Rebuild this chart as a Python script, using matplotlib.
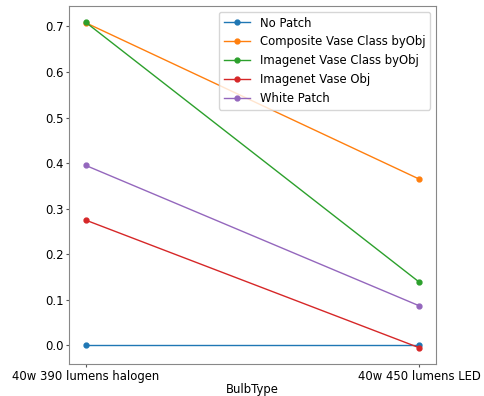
import matplotlib
matplotlib.use("Agg")
import matplotlib.pyplot as plt

bulb_types = ['40w 390 lumens halogen', '40w 450 lumens LED']

no_patch = [0.0, 0.0]
composite_vase_class = [0.708, 0.365]
imagenet_vase_class = [0.709, 0.139]
imagenet_vase_obj = [0.275, -0.005]
white_patch = [0.395, 0.087]

series = [
    ('No Patch', no_patch),
    ('Composite Vase Class byObj', composite_vase_class),
    ('Imagenet Vase Class byObj', imagenet_vase_class),
    ('Imagenet Vase Obj', imagenet_vase_obj),
    ('White Patch', white_patch),
]

fs = 8.4

fig = plt.figure(figsize=(4.84, 3.96), dpi=100)
ax = fig.add_axes([0.1426, 0.0808, 0.758, 0.904])

x = range(len(bulb_types))
for name, vals in series:
    ax.plot(x, vals, marker='o', markersize=3.5, linewidth=1.0, label=name)

ax.set_xticks(list(x))
ax.set_xticklabels(bulb_types)
ax.set_xlabel('BulbType', fontsize=fs, labelpad=0.5)
ax.tick_params(labelsize=fs, color='#555555', length=2.5, pad=1.5)
for s in ax.spines.values():
    s.set_color('#888888')

ax.legend(loc='upper right', fontsize=fs, handlelength=2.3)

fig.savefig('out.png', dpi=100)
